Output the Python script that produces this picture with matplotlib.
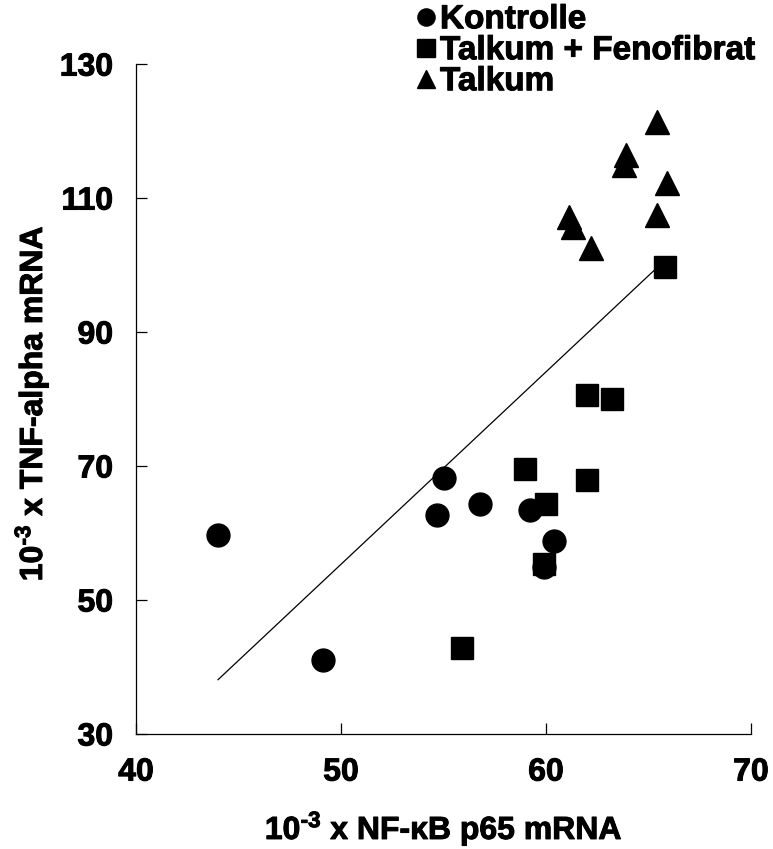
import numpy as np
import matplotlib.pyplot as plt
import matplotlib.patheffects as pe

plt.rcParams['font.family'] = ['Liberation Sans', 'DejaVu Sans']
plt.rcParams['font.weight'] = 'bold'
plt.rcParams['mathtext.fontset'] = 'custom'
plt.rcParams['mathtext.rm'] = 'Liberation Sans:bold'
plt.rcParams['mathtext.bf'] = 'Liberation Sans:bold'
plt.rcParams['mathtext.default'] = 'bf'

# Kontrolle (circles)
kon_x = [44.0, 49.1, 55.0, 54.7, 56.8, 59.2, 60.4, 59.9]
kon_y = [59.7, 41.0, 68.2, 62.7, 64.3, 63.4, 58.8, 54.9]

# Talkum + Fenofibrat (squares)
tf_x = [55.9, 59.0, 60.0, 59.9, 62.0, 62.0, 63.2, 65.8]
tf_y = [42.8, 69.5, 64.3, 55.4, 67.9, 80.6, 80.0, 99.7]

# Talkum (triangles)
tal_x = [65.4, 63.9, 63.8, 65.9, 65.4, 61.1, 61.3, 62.2]
tal_y = [121.3, 116.4, 114.9, 112.2, 107.5, 107.2, 105.7, 102.5]

# regression line ends
line_x = [44.0, 65.9]
line_y = [38.1, 101.0]

xticks = [40, 50, 60, 70]
yticks = [30, 50, 70, 90, 110, 130]

bold = [pe.withStroke(linewidth=0.7, foreground='black')]

fig = plt.figure(figsize=(7.73, 8.49), dpi=100)
ax = fig.add_axes([0.176, 0.1355, 0.7955, 0.789])

ax.plot(line_x, line_y, color='black', lw=0.9, zorder=1)
ax.plot(kon_x, kon_y, 'o', color='black', ms=16.5, ls='none', label='Kontrolle', zorder=2)
ax.plot(tf_x, tf_y, 's', color='black', ms=16.5, ls='none', label='Talkum + Fenofibrat', zorder=3)
ax.plot(tal_x, tal_y, '^', color='black', ms=17, ls='none', label='Talkum', zorder=4)

ax.set_xlim(40, 70)
ax.set_ylim(30, 130)
ax.set_xticks(xticks)
ax.set_yticks(yticks)
ax.spines['top'].set_visible(False)
ax.spines['right'].set_visible(False)
for s in ['left', 'bottom']:
    ax.spines[s].set_linewidth(0.9)
ax.tick_params(axis='both', direction='in', length=8, width=0.9, labelsize=23)
ax.tick_params(axis='y', pad=16.5)
ax.tick_params(axis='x', pad=17)
for lab in ax.get_xticklabels() + ax.get_yticklabels():
    lab.set_fontweight('bold')
    lab.set_path_effects(bold)

fig.text(444/773, 1-839/849, r'10$^{\text{-3}}$ x NF-κB p65 mRNA', ha='center', va='baseline',
         fontsize=23, fontweight='bold', path_effects=bold)
fig.text(42/773, 1-403/849, r'10$^{\text{-3}}$ x TNF-alpha mRNA', ha='center', va='baseline',
         rotation=90, rotation_mode='anchor', fontsize=23, fontweight='bold', path_effects=bold)

leg = fig.legend(loc='upper left', bbox_to_anchor=(0.539, 0.995), frameon=False,
                 fontsize=24, markerscale=0.75, handlelength=0.55, handletextpad=0.15,
                 labelspacing=0.0, borderpad=0, borderaxespad=0)
for t in leg.get_texts():
    t.set_fontweight('bold')
    t.set_path_effects(bold)

fig.savefig('out.png', dpi=100)
